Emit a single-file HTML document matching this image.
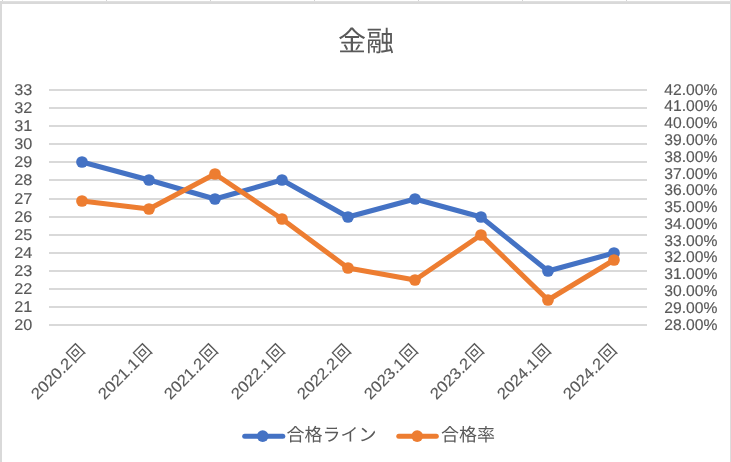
<!DOCTYPE html>
<html><head><meta charset="utf-8"><title>金融</title>
<style>
html,body{margin:0;padding:0;background:#fff;}
body{width:731px;height:462px;overflow:hidden;}
svg{display:block;will-change:transform;}
.t{font-family:"Liberation Sans",sans-serif;font-size:15.5px;fill:#595959;text-rendering:geometricPrecision;stroke:#595959;stroke-width:0.15px;}
.r{font-size:15.8px;}
.j{font-family:"Liberation Sans","Noto Sans CJK JP",sans-serif;fill:#595959;text-rendering:geometricPrecision;}
</style></head><body>
<svg width="731" height="462" viewBox="0 0 731 462">
<rect x="0" y="0" width="731" height="462" fill="#fff"/>
<rect x="2" y="0" width="1" height="1" fill="#d4d4d4"/>
<rect x="106" y="0" width="1" height="1" fill="#d4d4d4"/>
<rect x="210" y="0" width="1" height="1" fill="#d4d4d4"/>
<rect x="314" y="0" width="1" height="1" fill="#d4d4d4"/>
<rect x="418" y="0" width="1" height="1" fill="#d4d4d4"/>
<rect x="522" y="0" width="1" height="1" fill="#d4d4d4"/>
<rect x="626" y="0" width="1" height="1" fill="#d4d4d4"/>
<rect x="730" y="0" width="1" height="1" fill="#d4d4d4"/>
<rect x="0" y="1" width="731" height="3" fill="#d9d9d9"/>
<rect x="0" y="1" width="731" height="1" fill="#dfdfdf"/>
<rect x="0" y="1" width="2" height="462" fill="#d9d9d9"/>
<rect x="730" y="0" width="1" height="462" fill="#dcdcdc"/>
<rect x="49" y="89" width="598" height="2" fill="#d9d9d9"/>
<rect x="49" y="107" width="598" height="2" fill="#d9d9d9"/>
<rect x="49" y="125" width="598" height="2" fill="#d9d9d9"/>
<rect x="49" y="143" width="598" height="2" fill="#d9d9d9"/>
<rect x="49" y="161" width="598" height="2" fill="#d9d9d9"/>
<rect x="49" y="179" width="598" height="2" fill="#d9d9d9"/>
<rect x="49" y="198" width="598" height="2" fill="#d9d9d9"/>
<rect x="49" y="216" width="598" height="2" fill="#d9d9d9"/>
<rect x="49" y="234" width="598" height="2" fill="#d9d9d9"/>
<rect x="49" y="252" width="598" height="2" fill="#d9d9d9"/>
<rect x="49" y="270" width="598" height="2" fill="#d9d9d9"/>
<rect x="49" y="288" width="598" height="2" fill="#d9d9d9"/>
<rect x="49" y="306" width="598" height="2" fill="#d9d9d9"/>
<rect x="49" y="324" width="598" height="2" fill="#d9d9d9"/>
<text transform="translate(14.20 94.85) scale(1.045 1.0)" text-anchor="start" class="t">33</text>
<text transform="translate(14.20 112.85) scale(1.045 1.0)" text-anchor="start" class="t">32</text>
<text transform="translate(14.20 130.85) scale(1.045 1.0)" text-anchor="start" class="t">31</text>
<text transform="translate(14.20 148.85) scale(1.045 1.0)" text-anchor="start" class="t">30</text>
<text transform="translate(14.20 166.85) scale(1.045 1.0)" text-anchor="start" class="t">29</text>
<text transform="translate(14.20 184.85) scale(1.045 1.0)" text-anchor="start" class="t">28</text>
<text transform="translate(14.20 203.85) scale(1.045 1.0)" text-anchor="start" class="t">27</text>
<text transform="translate(14.20 221.85) scale(1.045 1.0)" text-anchor="start" class="t">26</text>
<text transform="translate(14.20 239.85) scale(1.045 1.0)" text-anchor="start" class="t">25</text>
<text transform="translate(14.20 257.85) scale(1.045 1.0)" text-anchor="start" class="t">24</text>
<text transform="translate(14.20 275.85) scale(1.045 1.0)" text-anchor="start" class="t">23</text>
<text transform="translate(14.20 293.85) scale(1.045 1.0)" text-anchor="start" class="t">22</text>
<text transform="translate(14.20 311.85) scale(1.045 1.0)" text-anchor="start" class="t">21</text>
<text transform="translate(14.20 329.85) scale(1.045 1.0)" text-anchor="start" class="t">20</text>
<text transform="translate(664.30 94.60) scale(1.012 1.0)" text-anchor="start" class="t">42.00%</text>
<text transform="translate(664.30 111.38) scale(1.012 1.0)" text-anchor="start" class="t">41.00%</text>
<text transform="translate(664.30 128.16) scale(1.012 1.0)" text-anchor="start" class="t">40.00%</text>
<text transform="translate(664.30 144.94) scale(1.012 1.0)" text-anchor="start" class="t">39.00%</text>
<text transform="translate(664.30 161.72) scale(1.012 1.0)" text-anchor="start" class="t">38.00%</text>
<text transform="translate(664.30 178.50) scale(1.012 1.0)" text-anchor="start" class="t">37.00%</text>
<text transform="translate(664.30 195.28) scale(1.012 1.0)" text-anchor="start" class="t">36.00%</text>
<text transform="translate(664.30 212.06) scale(1.012 1.0)" text-anchor="start" class="t">35.00%</text>
<text transform="translate(664.30 228.84) scale(1.012 1.0)" text-anchor="start" class="t">34.00%</text>
<text transform="translate(664.30 245.62) scale(1.012 1.0)" text-anchor="start" class="t">33.00%</text>
<text transform="translate(664.30 262.40) scale(1.012 1.0)" text-anchor="start" class="t">32.00%</text>
<text transform="translate(664.30 279.18) scale(1.012 1.0)" text-anchor="start" class="t">31.00%</text>
<text transform="translate(664.30 295.96) scale(1.012 1.0)" text-anchor="start" class="t">30.00%</text>
<text transform="translate(664.30 312.74) scale(1.012 1.0)" text-anchor="start" class="t">29.00%</text>
<text transform="translate(664.30 329.52) scale(1.012 1.0)" text-anchor="start" class="t">28.00%</text>
<polyline points="82.00,162.00 149.00,180.00 215.00,199.00 282.00,180.00 348.00,217.00 415.00,199.00 481.00,217.00 548.00,271.00 614.00,253.00" fill="none" stroke="#4472c4" stroke-width="5.0" stroke-linejoin="round" stroke-linecap="round"/><g fill="#4472c4"><circle cx="82.00" cy="162.00" r="5.85"/><circle cx="149.00" cy="180.00" r="5.85"/><circle cx="215.00" cy="199.00" r="5.85"/><circle cx="282.00" cy="180.00" r="5.85"/><circle cx="348.00" cy="217.00" r="5.85"/><circle cx="415.00" cy="199.00" r="5.85"/><circle cx="481.00" cy="217.00" r="5.85"/><circle cx="548.00" cy="271.00" r="5.85"/><circle cx="614.00" cy="253.00" r="5.85"/></g>
<polyline points="82.00,201.00 149.00,209.00 215.00,174.00 282.00,219.00 348.00,268.00 415.00,280.00 481.00,235.00 548.00,300.00 614.00,260.00" fill="none" stroke="#ed7d31" stroke-width="5.0" stroke-linejoin="round" stroke-linecap="round"/><g fill="#ed7d31"><circle cx="82.00" cy="201.00" r="5.85"/><circle cx="149.00" cy="209.00" r="5.85"/><circle cx="215.00" cy="174.00" r="5.85"/><circle cx="282.00" cy="219.00" r="5.85"/><circle cx="348.00" cy="268.00" r="5.85"/><circle cx="415.00" cy="280.00" r="5.85"/><circle cx="481.00" cy="235.00" r="5.85"/><circle cx="548.00" cy="300.00" r="5.85"/><circle cx="614.00" cy="260.00" r="5.85"/></g>
<g transform="translate(85.00 352.80) rotate(-45)"><text transform="translate(-16.4 0) scale(1.05 1)" text-anchor="end" class="t r">2020.2</text><text x="-15.18" y="-0.33" font-size="16.8" text-anchor="start" class="j">回</text></g>
<g transform="translate(152.00 352.80) rotate(-45)"><text transform="translate(-16.4 0) scale(1.05 1)" text-anchor="end" class="t r">2021.1</text><text x="-15.18" y="-0.33" font-size="16.8" text-anchor="start" class="j">回</text></g>
<g transform="translate(218.00 352.80) rotate(-45)"><text transform="translate(-16.4 0) scale(1.05 1)" text-anchor="end" class="t r">2021.2</text><text x="-15.18" y="-0.33" font-size="16.8" text-anchor="start" class="j">回</text></g>
<g transform="translate(285.00 352.80) rotate(-45)"><text transform="translate(-16.4 0) scale(1.05 1)" text-anchor="end" class="t r">2022.1</text><text x="-15.18" y="-0.33" font-size="16.8" text-anchor="start" class="j">回</text></g>
<g transform="translate(351.00 352.80) rotate(-45)"><text transform="translate(-16.4 0) scale(1.05 1)" text-anchor="end" class="t r">2022.2</text><text x="-15.18" y="-0.33" font-size="16.8" text-anchor="start" class="j">回</text></g>
<g transform="translate(418.00 352.80) rotate(-45)"><text transform="translate(-16.4 0) scale(1.05 1)" text-anchor="end" class="t r">2023.1</text><text x="-15.18" y="-0.33" font-size="16.8" text-anchor="start" class="j">回</text></g>
<g transform="translate(484.00 352.80) rotate(-45)"><text transform="translate(-16.4 0) scale(1.05 1)" text-anchor="end" class="t r">2023.2</text><text x="-15.18" y="-0.33" font-size="16.8" text-anchor="start" class="j">回</text></g>
<g transform="translate(551.00 352.80) rotate(-45)"><text transform="translate(-16.4 0) scale(1.05 1)" text-anchor="end" class="t r">2024.1</text><text x="-15.18" y="-0.33" font-size="16.8" text-anchor="start" class="j">回</text></g>
<g transform="translate(617.00 352.80) rotate(-45)"><text transform="translate(-16.4 0) scale(1.05 1)" text-anchor="end" class="t r">2024.2</text><text x="-15.18" y="-0.33" font-size="16.8" text-anchor="start" class="j">回</text></g>
<text x="337.90" y="50.70" font-size="28" text-anchor="start" class="j">金融</text>
<line x1="244.7" y1="436.2" x2="282.8" y2="436.2" stroke="#4472c4" stroke-width="5.0" stroke-linecap="round"/><circle cx="262.7" cy="436.2" r="5.85" fill="#4472c4"/>
<text x="286.50" y="440.90" font-size="18" text-anchor="start" class="j">合格ライン</text>
<line x1="398.8" y1="436.2" x2="436.3" y2="436.2" stroke="#ed7d31" stroke-width="5.0" stroke-linecap="round"/><circle cx="417.2" cy="436.2" r="5.85" fill="#ed7d31"/>
<text x="441.00" y="440.90" font-size="18" text-anchor="start" class="j">合格率</text>
</svg>
</body></html>
